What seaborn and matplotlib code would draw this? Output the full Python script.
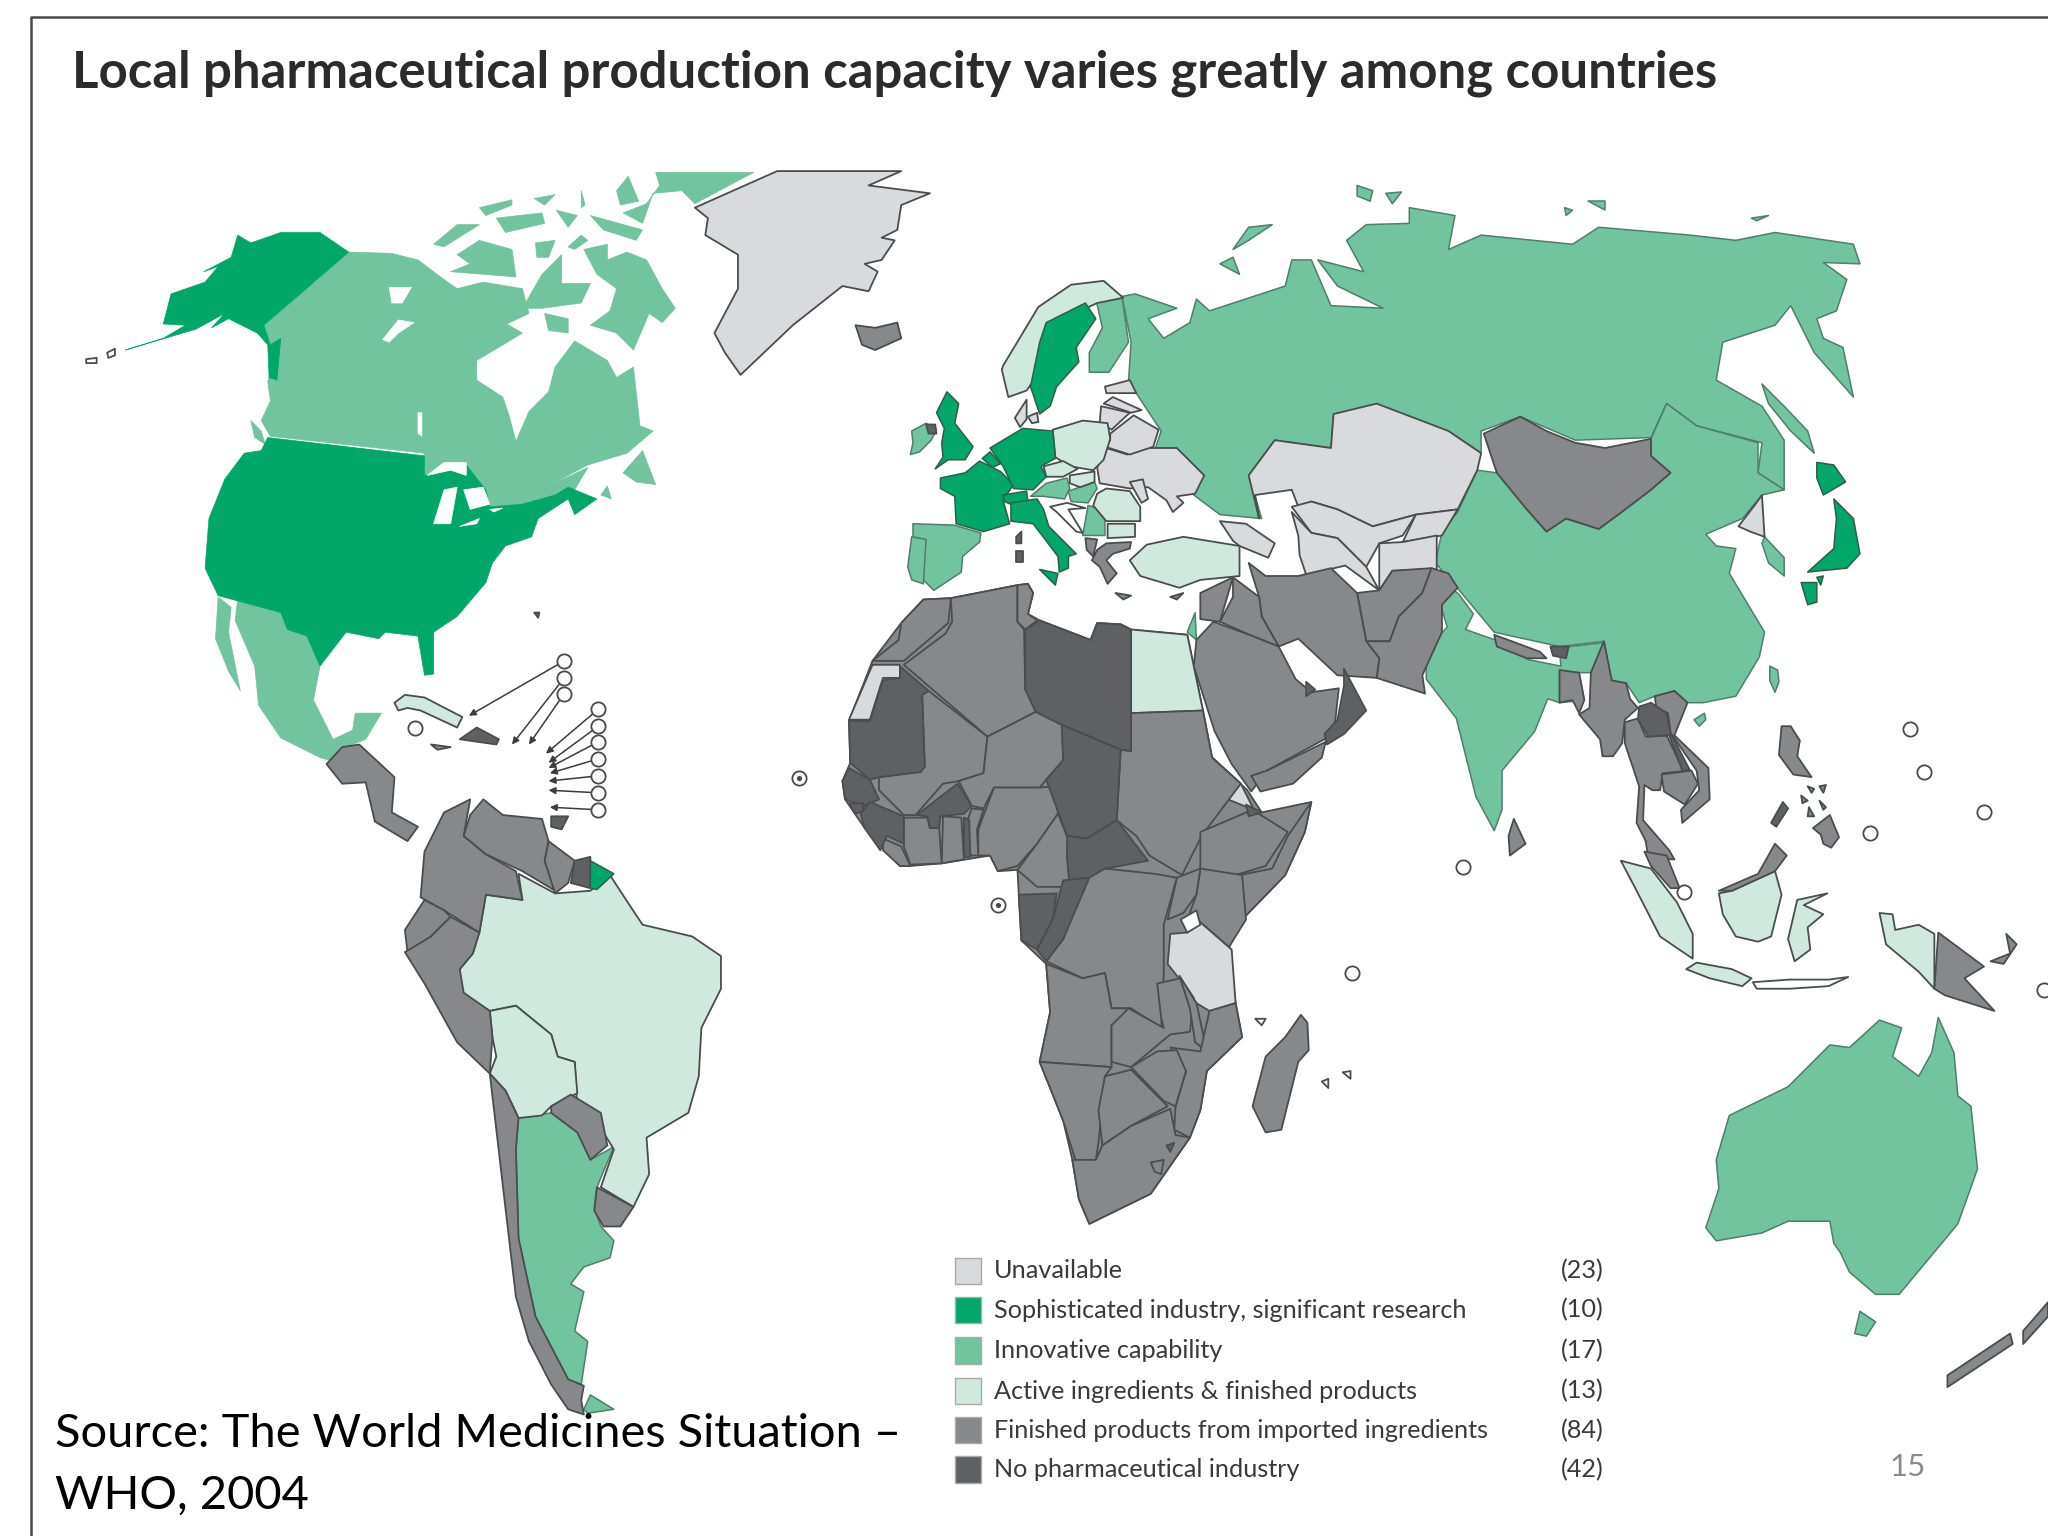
import pandas as pd
import matplotlib
matplotlib.use("Agg")
import matplotlib.pyplot as plt
import seaborn as sns

TITLE = "Local pharmaceutical production capacity varies greatly among countries"
SOURCE = "Source: The World Medicines Situation –\nWHO, 2004"
PAGE = "15"

categories = ["Unavailable", "Sophisticated industry, significant research", "Innovative capability",
              "Active ingredients & finished products", "Finished products from imported ingredients",
              "No pharmaceutical industry"]
counts = [23, 10, 17, 13, 84, 42]
colors = ["#d9dade", "#00a768", "#72c49e", "#d0e9de", "#87888c", "#5f6063"]
legend_rows = [973, 1003, 1034, 1065, 1095, 1125]

# outlines, in picture pixels, one list per legend class
africa_base = [(650,552),(668,506),(690,477),(707,459),(728,458),(779,448),(787,447),(791,454),(787,470),(796,475),(835,490),(840,477),(858,478),(866,482),(909,486),(921,544),(928,580),(955,605),(966,622),(1004,614),(999,637),(984,670),(951,704),(941,725),(946,768),(951,794),(924,820),(919,850),(911,871),(881,914),(834,937),(826,918),(821,888),(814,858),(796,813),(804,775),(801,738),(782,720),(780,685),(779,666),(764,667),(758,655),(721,661),(697,663),(689,663),(662,634),(647,612),(645,598),(651,584)]

north_america_top = [
    [(96,268),(125,259),(142,249),(125,248),(131,225),(157,216),(167,204),(156,208),(177,197),(182,180),(192,186),(215,178),(245,178),(267,193),(202,249),(207,264),(215,259),(212,291),(206,289),(205,264),(197,255),(175,244),(162,251),(172,240),(150,252)],
    [(205,335),(325,349),(325,364),(357,356),(372,375),(375,388),(400,386),(425,379),(435,373),(457,382),(440,394),(435,382),(412,397),(407,411),(387,418),(377,431),(372,446),(350,472),(332,484),(332,516),(325,517),(320,487),(295,484),(290,489),(265,484),(245,510),(235,487),(220,482),(215,469),(167,456),(157,435),(160,397),(172,367),(187,347),(200,345)],
]
north_america_innovative = [
    [(267,193),(300,194),(320,199),(340,214),(350,221),(370,216),(400,221),(405,240),(388,248),(400,255),(365,276),(365,291),(385,304),(390,319),(395,338),(405,315),(420,300),(425,281),(440,261),(465,276),(472,289),(485,281),(490,326),(500,330),(480,347),(450,356),(418,373),(450,358),(440,375),(425,379),(400,386),(375,388),(372,375),(357,356),(325,364),(325,347),(207,334),(200,322),(207,307),(205,292),(215,259),(207,264),(202,249)],
    [(447,191),(465,187),(465,199),(480,193),(495,199),(507,221),(517,236),(507,247),(497,240),(485,268),(472,255),(452,249),(467,238),(472,221),(457,210)],
    [(350,195),(367,184),(392,191),(395,212),(345,208),(360,202)],
    [(332,187),(350,172),(367,172),(340,189)],
    [(417,240),(435,244),(435,255),(420,253)],
    [(400,236),(415,210),(430,195),(430,217),(452,217),(445,232),(415,236)],
    [(410,186),(425,184),(420,197),(411,197)],
    [(435,189),(445,180),(450,184),(440,191)],
    [(380,167),(415,163),(417,171),(387,178)],
    [(367,159),(392,153),(392,157),(372,165)],
    [(409,152),(425,149),(417,157)],
    [(426,161),(442,165),(435,174)],
    [(445,146),(448,157),(445,159)],
    [(452,165),(492,176),(487,184),(462,176)],
    [(502,132),(577,132),(532,156),(522,146),(500,148),(492,171),(477,163),(495,156),(505,142)],
    [(472,146),(481,135),(489,154),(475,157)],
    [(477,362),(492,345),(502,371),(487,369)],
    [(460,379),(465,372),(468,382)],
    [(192,322),(200,330),(203,340),(195,335)],
    [(167,457),(177,465),(175,484),(184,529),(175,514),(165,489)],
    [(182,459),(215,469),(220,482),(235,487),(245,510),(240,536),(255,566),(270,559),(272,546),(292,546),(280,566),(265,572),(262,585),(245,580),(215,565),(198,540),(195,510),(180,475)],
]
lakes = [
    [(298,220),(315,220),(308,232),(300,232)],
    [(293,260),(305,245),(317,247),(305,255),(298,262)],
    [(320,316),(323,316),(323,334),(320,332)],
    [(327,364),(340,354),(357,354),(357,364),(345,360)],
    [(332,401),(340,375),(350,373),(345,401)],
    [(355,375),(370,373),(375,386),(360,390)],
    [(352,403),(367,397),(365,401)],
    [(375,390),(385,389),(378,392)],
]

sophisticated = [
    [(720,366),(739,362),(750,353),(766,361),(776,371),(768,383),(773,401),(753,407),(732,401),(731,380),(720,374)],
    [(725,300),(734,309),(731,324),(745,342),(739,352),(726,352),(716,359),(722,350),(721,339),(723,328),(717,316)],
    [(758,343),(783,328),(806,330),(808,351),(797,357),(801,365),(791,375),(776,374),(768,357)],
    [(752,351),(758,346),(766,355),(760,358)],
    [(768,379),(786,376),(787,384),(776,387),(769,384)],
    [(774,385),(794,382),(799,390),(803,403),(824,424),(818,426),(818,435),(811,438),(810,426),(791,401),(774,399)],
    [(796,436),(810,439),(808,448)],
    [(831,232),(839,244),(824,266),(826,277),(809,296),(804,311),(796,317),(789,296),(796,262),(801,247)],
    [(1391,354),(1404,356),(1413,369),(1396,379),(1391,366)],
    [(1404,382),(1419,397),(1424,424),(1414,435),(1384,438),(1404,420),(1406,397)],
    [(1379,446),(1391,446),(1391,461),(1384,463)],
    [(1391,442),(1396,441),(1394,448)],
    [(452,659),(470,669),(457,681),(452,680)],
]
innovative = [
    [(859,227),(869,225),(901,236),(879,244),(891,259),(911,247),(916,229),(926,238),(984,219),(989,199),(1004,199),(1019,234),(1059,236),(1024,219),(1009,199),(1044,208),(1031,184),(1046,172),(1079,171),(1079,159),(1114,165),(1109,191),(1134,180),(1204,187),(1224,174),(1294,180),(1329,184),(1359,178),(1419,187),(1424,202),(1396,201),(1414,214),(1406,238),(1391,244),(1396,259),(1411,266),(1419,304),(1389,270),(1371,234),(1359,249),(1319,262),(1314,291),(1349,311),(1366,337),(1366,375),(1346,362),(1349,339),(1299,326),(1276,309),(1264,335),(1206,337),(1164,319),(1134,330),(1134,347),(1109,330),(1021,317),(1019,343),(976,337),(956,364),(966,397),(934,394),(914,379),(919,364),(884,345),(889,330),(864,292),(866,262)],
    [(944,191),(956,174),(974,172),(956,184)],
    [(934,202),(944,197),(949,210)],
    [(1039,142),(1051,146),(1049,154),(1039,150)],
    [(1061,148),(1073,147),(1066,156)],
    [(1198,159),(1204,161),(1199,165)],
    [(1216,154),(1229,154),(1229,161)],
    [(1341,167),(1354,165),(1345,169)],
    [(1349,294),(1366,311),(1384,330),(1389,347),(1371,330),(1354,309)],
    [(1131,360),(1146,362),(1169,390),(1184,407),(1199,397),(1224,405),(1239,394),(1264,375),(1279,362),(1264,349),(1264,336),(1276,309),(1299,326),(1346,339),(1346,362),(1366,375),(1349,379),(1334,397),(1306,409),(1314,418),(1329,420),(1324,439),(1351,484),(1347,503),(1329,533),(1304,538),(1292,538),(1282,529),(1267,533),(1255,538),(1245,523),(1234,521),(1228,491),(1194,495),(1144,484),(1119,454),(1099,431),(1104,407),(1116,392)],
    [(1351,411),(1366,427),(1366,441),(1354,431),(1349,416)],
    [(1355,510),(1361,513),(1362,522),(1359,530),(1355,521)],
    [(1297,551),(1305,546),(1306,551),(1301,556)],
    [(1105,445),(1117,455),(1128,470),(1122,482),(1145,490),(1170,505),(1195,510),(1194,496),(1228,492),(1218,515),(1209,515),(1213,536),(1194,538),(1185,535),(1175,560),(1150,590),(1150,620),(1144,636),(1130,610),(1120,570),(1115,550),(1092,520),(1092,498),(1108,480),(1102,460)],
    [(839,229),(859,227),(864,262),(849,285),(834,285),(834,270),(844,251)],
    [(698,330),(709,324),(717,329),(713,337),(704,346),(697,348),(699,339)],
    [(699,401),(730,402),(751,408),(750,415),(737,426),(736,438),(715,452),(707,444),(708,413),(699,411)],
    [(698,411),(709,413),(707,447),(698,444),(695,434)],
    [(789,380),(801,370),(817,366),(819,374),(815,382),(799,380)],
    [(818,376),(838,369),(840,374),(833,385),(820,384)],
    [(833,387),(840,389),(846,398),(846,410),(829,410)],
    [(909,484),(915,469),(916,490)],
    [(397,856),(422,852),(442,867),(452,888),(470,878),(457,909),(455,925),(460,939),(470,950),(467,963),(447,970),(437,983),(447,989),(440,1019),(450,1027),(445,1060),(435,1056),(410,1008),(397,948),(395,880)],
    [(447,1079),(452,1068),(470,1079),(450,1082)],
    [(1306,940),(1316,910),(1314,888),(1324,854),(1369,832),(1401,800),(1416,802),(1439,781),(1456,787),(1449,809),(1469,824),(1479,806),(1484,779),(1496,806),(1499,839),(1509,847),(1514,895),(1499,937),(1454,991),(1436,991),(1416,974),(1409,959),(1404,952),(1401,935),(1369,935),(1349,944),(1314,950)],
    [(1424,1004),(1436,1012),(1429,1023),(1420,1021)],
]
active = [
    [(767,283),(768,280),(795,235),(820,218),(845,215),(860,228),(840,232),(812,245),(797,265),(795,286),(786,299),(772,304)],
    [(806,329),(829,322),(848,324),(850,336),(845,352),(837,360),(819,357),(808,350)],
    [(799,357),(814,353),(825,359),(814,365),(801,365)],
    [(819,364),(838,361),(838,369),(827,373),(819,370)],
    [(840,378),(847,374),(865,376),(873,388),(873,399),(847,399),(837,387)],
    [(848,401),(869,401),(869,411),(848,412)],
    [(865,429),(878,417),(906,411),(949,418),(949,441),(919,444),(903,450),(873,441)],
    [(866,482),(909,486),(921,544),(866,546)],
    [(302,538),(310,532),(325,534),(354,549),(350,557),(322,544),(312,542),(305,544)],
    [(372,685),(400,689),(397,669),(425,684),(452,682),(467,670),(482,693),(492,708),(530,717),(552,732),(552,757),(537,787),(535,824),(527,852),(495,871),(497,899),(485,924),(460,909),(470,880),(462,867),(442,850),(440,813),(427,809),(422,792),(395,770),(375,774),(352,760),(352,742),(362,730),(367,714)],
    [(375,774),(395,770),(422,792),(427,809),(440,813),(442,837),(422,847),(415,854),(397,856),(387,835),(375,822),(380,809),(377,794)],
    [(1241,659),(1264,665),(1284,691),(1296,715),(1296,734),(1271,717),(1251,678)],
    [(1291,742),(1299,737),(1326,742),(1341,749),(1334,755),(1309,749)],
    [(1316,684),(1326,682),(1359,667),(1364,685),(1356,717),(1346,721),(1329,717),(1319,700)],
    [(1369,719),(1376,689),(1399,684),(1381,693),(1396,700),(1384,710),(1386,727),(1374,736)],
    [(1439,699),(1449,700),(1451,712),(1469,708),(1481,715),(1481,757),(1469,744),(1444,723)],
]
unavailable = [
    [(595,131),(690,131),(665,142),(712,148),(690,157),(687,176),(675,182),(685,184),(675,199),(662,202),(672,208),(665,223),(645,219),(607,249),(567,287),(555,270),(547,255),(565,221),(565,195),(540,180),(542,167),(532,159)],
    [(956,364),(976,337),(1019,343),(1021,317),(1054,309),(1109,330),(1134,347),(1131,360),(1116,390),(1084,394),(1051,403),(1024,390),(1004,384),(994,388),(989,375),(961,379),(964,397)],
    [(989,388),(1004,384),(1024,390),(1051,403),(1084,394),(1074,410),(1056,416),(1046,434),(1024,412),(1004,408)],
    [(989,392),(1004,408),(1024,412),(1046,434),(1056,452),(1030,433),(1000,440),(995,425),(994,410)],
    [(1084,394),(1116,390),(1104,410),(1074,415)],
    [(1056,416),(1074,415),(1100,410),(1100,436),(1066,437),(1056,452)],
    [(934,399),(954,401),(976,416),(971,427),(949,418),(944,414)],
    [(840,358),(847,343),(863,348),(878,343),(901,343),(922,364),(915,378),(901,380),(906,385),(898,392),(893,383),(879,373),(865,374),(842,370)],
    [(850,332),(868,318),(887,329),(883,342),(865,348),(846,342),(850,337)],
    [(846,296),(865,291),(870,301),(847,301)],
    [(845,309),(852,304),(874,314),(866,316)],
    [(843,311),(865,316),(851,329),(842,323)],
    [(865,369),(875,367),(879,382),(874,385)],
    [(777,320),(786,306),(786,321),(781,327)],
    [(787,319),(794,316),(795,323),(790,324)],
    [(1331,403),(1344,386),(1349,379),(1351,411),(1340,407)],
    [(668,509),(689,509),(689,519),(676,519),(666,551),(650,551)],
    [(648,605),(661,603),(661,607),(648,607)],
    [(928,580),(950,600),(960,620),(935,610)],
    [(896,715),(909,714),(919,706),(943,727),(946,768),(926,774),(916,768),(901,747),(894,738)],
]
finished = [
    [(655,249),(670,251),(687,247),(690,259),(670,268),(660,264)],
    [(280,599),(262,600),(250,585),(262,572),(275,570),(288,582),(302,595),(300,622),(320,633),(312,644),(287,629)],
    [(330,570),(345,572),(335,574)],
    [(360,612),(355,640),(372,654),(395,667),(400,689),(372,685),(367,714),(340,697),(322,687),(325,652),(340,622)],
    [(370,612),(385,624),(415,627),(420,644),(417,659),(425,682),(400,667),(372,654),(355,640),(360,624)],
    [(420,644),(440,659),(435,676),(425,684),(417,659)],
    [(325,689),(340,697),(345,702),(330,717),(312,729),(310,712)],
    [(345,702),(367,714),(362,730),(352,742),(355,760),(375,774),(377,794),(375,822),(350,798),(325,753),(310,729),(330,717)],
    [(422,847),(437,838),(460,852),(465,877),(452,888),(442,867),(422,852)],
    [(375,822),(387,835),(397,856),(395,880),(397,948),(410,1008),(435,1056),(447,1061),(445,1072),(447,1083),(435,1079),(422,1060),(405,1027),(395,993),(387,925)],
    [(457,909),(485,924),(475,939),(462,939),(455,927)],
    [(1136,332),(1164,319),(1184,330),(1206,339),(1229,343),(1264,336),(1264,349),(1279,362),(1264,375),(1239,394),(1224,405),(1199,397),(1184,407),(1169,390),(1146,362)],
    [(1144,486),(1179,499),(1184,504),(1169,504),(1146,495)],
    [(1159,627),(1168,646),(1156,655),(1155,640)],
    [(1039,454),(1056,452),(1066,437),(1096,435),(1089,454),(1071,472),(1064,491),(1046,491)],
    [(1089,454),(1096,435),(1109,439),(1116,450),(1104,463),(1104,484),(1089,517),(1091,531),(1054,519),(1056,504),(1046,491),(1064,491),(1071,472)],
    [(956,431),(969,441),(994,441),(1019,435),(1039,454),(1046,491),(1056,504),(1054,519),(1024,517),(994,489),(979,495),(966,472),(964,457)],
    [(944,442),(964,457),(966,472),(979,495),(959,487),(934,476),(944,457)],
    [(919,454),(944,442),(934,476),(919,474)],
    [(929,476),(959,487),(979,495),(992,520),(1004,530),(1025,527),(1022,555),(1014,566),(970,590),(958,606),(943,585),(930,560),(914,510),(916,490)],
    [(1015,568),(1012,580),(990,600),(965,606),(958,594),(970,590)],
    [(831,412),(840,413),(837,426),(832,421)],
    [(840,421),(847,416),(866,415),(865,420),(852,424),(847,429),(855,439),(848,447),(842,434),(836,429)],
    [(854,454),(866,456),(860,459)],
    [(896,457),(906,454),(901,459)],
    [(690,477),(707,459),(728,458),(726,477),(692,506),(668,506),(688,490)],
    [(728,458),(779,448),(779,476),(784,482),(785,528),(793,545),(756,564),(692,509),(724,485),(729,476)],
    [(779,448),(787,447),(791,454),(787,470),(794,475),(785,482),(779,476)],
    [(706,532),(711,529),(756,564),(753,592),(734,598),(722,600),(701,624),(692,624),(673,605),(673,595),(705,591),(708,587)],
    [(756,564),(793,545),(813,555),(814,582),(801,597),(796,603),(761,603),(753,619),(744,617),(734,598),(753,592)],
    [(761,603),(796,603),(807,602),(810,623),(794,646),(779,663),(764,667),(758,655),(749,655),(749,635)],
    [(810,623),(818,643),(817,656),(819,679),(794,679),(779,666),(794,646)],
    [(744,619),(753,620),(748,635),(749,655),(743,655),(740,630)],
    [(722,625),(736,626),(738,658),(721,661)],
    [(692,626),(710,626),(712,634),(719,634),(721,661),(697,662),(692,648)],
    [(676,642),(690,648),(697,663),(689,663),(676,651)],
    [(664,634),(675,630),(676,648),(671,646)],
    [(866,546),(921,544),(928,580),(950,600),(920,640),(905,670),(880,655),(870,640),(855,628),(858,574),(866,575)],
    [(919,637),(959,620),(986,637),(969,663),(939,672),(919,667)],
    [(1004,614),(999,637),(984,670),(951,704),(949,670),(974,665),(986,640)],
    [(919,665),(951,670),(954,704),(941,725),(911,699),(916,685)],
    [(901,672),(919,665),(916,685),(906,699),(894,704)],
    [(801,736),(814,719),(834,670),(846,665),(884,669),(901,672),(891,708),(891,745),(889,787),(866,772),(851,772),(846,745),(829,749)],
    [(801,738),(829,749),(846,745),(851,772),(864,772),(864,783),(851,785),(851,817),(796,813),(804,775)],
    [(851,785),(864,772),(891,787),(889,779),(886,753),(904,749),(914,764),(911,790),(896,792),(866,817),(851,813)],
    [(903,747),(916,768),(924,805),(915,798),(911,772)],
    [(946,768),(951,794),(924,820),(919,850),(911,871),(899,865),(900,847),(908,820),(896,802),(919,805),(926,774)],
    [(866,817),(886,805),(901,804),(908,820),(900,847),(891,843)],
    [(796,813),(851,817),(846,824),(841,875),(839,888),(824,890),(814,858)],
    [(846,824),(866,819),(894,847),(866,862),(844,877),(841,850)],
    [(821,888),(839,888),(844,877),(866,862),(896,849),(900,869),(911,871),(881,914),(834,937),(826,918)],
    [(881,890),(891,888),(889,899),(884,897)],
    [(996,777),(1001,783),(1002,804),(994,813),(981,865),(969,867),(959,847),(969,809),(984,794)],
    [(1228,491),(1234,521),(1245,523),(1248,535),(1254,542),(1244,551),(1242,569),(1235,579),(1227,579),(1225,566),(1209,547),(1217,542),(1218,515)],
    [(1194,513),(1209,515),(1213,536),(1209,546),(1204,536),(1194,538)],
    [(1244,553),(1254,550),(1260,564),(1276,563),(1286,584),(1294,590),(1273,592),(1271,605),(1265,605),(1259,601),(1258,628),(1278,651),(1282,658),(1262,657),(1260,644),(1253,630),(1255,602),(1244,569)],
    [(1259,652),(1276,655),(1286,680),(1279,680),(1264,663)],
    [(1267,533),(1282,529),(1292,538),(1282,563),(1308,588),(1309,612),(1288,630),(1287,620),(1301,605),(1299,590),(1279,561),(1277,546),(1268,542)],
    [(1272,593),(1295,590),(1300,600),(1290,616),(1274,606)],
    [(1316,682),(1346,669),(1359,646),(1368,655),(1359,667),(1326,682)],
    [(1484,714),(1519,740),(1504,749),(1527,774),(1489,762),(1481,757)],
    [(1524,736),(1539,730),(1536,715),(1544,723),(1534,738)],
    [(1364,556),(1371,556),(1378,567),(1376,579),(1387,595),(1373,593),(1362,578)],
    [(1388,634),(1401,624),(1408,641),(1402,649),(1396,646),(1394,639)],
    [(1384,602),(1389,604),(1387,607)],
    [(1393,602),(1398,601),(1396,607)],
    [(1379,609),(1384,613),(1380,615)],
    [(1393,613),(1398,618),(1396,620)],
    [(1385,618),(1389,625),(1384,625)],
    [(1491,1053),(1539,1021),(1541,1029),(1491,1062)],
    [(1549,1019),(1568,997),(1568,1008),(1549,1029)],
]
no_industry = [
    [(785,482),(796,475),(835,490),(840,477),(858,478),(866,482),(866,575),(858,574),(813,555),(793,545),(785,528)],
    [(650,552),(666,552),(676,521),(689,519),(689,510),(711,529),(706,532),(708,587),(705,591),(673,595),(666,597),(651,584)],
    [(813,555),(858,574),(855,628),(832,642),(817,640),(801,597),(814,582)],
    [(817,640),(832,642),(855,628),(879,659),(846,665),(834,672),(819,679),(817,656)],
    [(780,685),(809,684),(806,704),(794,727),(782,720)],
    [(834,672),(814,719),(801,736),(794,727),(806,704),(814,674)],
    [(650,588),(666,597),(673,612),(662,617),(647,612),(645,598)],
    [(650,615),(661,615),(661,621),(655,623)],
    [(659,623),(666,614),(692,625),(692,646),(679,640),(674,651),(662,634)],
    [(733,600),(744,617),(738,623),(720,625),(719,634),(712,634),(710,625),(702,624)],
    [(738,626),(742,628),(743,656),(738,656)],
    [(352,566),(365,557),(382,566),(380,570)],
    [(422,625),(435,625),(430,635),(422,633)],
    [(440,659),(452,656),(452,680),(437,676)],
    [(1187,495),(1201,495),(1199,504),(1189,502)],
    [(1029,512),(1046,544),(1029,562),(1016,570),(1014,562),(1024,551),(1029,525)],
    [(1000,522),(1007,528),(1000,533)],
    [(954,616),(966,622),(956,625)],
    [(893,877),(899,875),(896,882)],
    [(1255,541),(1264,538),(1276,546),(1279,561),(1294,590),(1288,590),(1278,563),(1262,564),(1254,551)],
    [(1356,630),(1365,614),(1369,619),(1360,633)],
    [(709,325),(716,325),(717,332),(711,332)],
    [(778,411),(782,407),(782,416),(778,416)],
    [(778,422),(783,422),(783,430),(778,430)],
    [(409,469),(413,469),(412,473)],
]
white_land = [
    [(804,388),(817,385),(831,389),(818,390),(829,408),(824,407),(809,392)],
    [(904,704),(916,697),(919,708),(909,714)],
    [(1342,752),(1370,750),(1400,750),(1415,748),(1400,755),(1370,757),(1345,757)],
    [(66,275),(74,274),(74,278),(66,278)],
    [(82,270),(88,267),(88,272),(83,274)],
    [(961,780),(969,780),(966,785)],
    [(1012,828),(1017,826),(1017,833)],
    [(1028,821),(1034,820),(1034,826)],
]

island_x = [1462, 1473, 1432, 1519, 1120, 1035, 1289, 1565, 612, 764, 318, 432, 432, 432, 458, 458, 458, 458, 458, 458, 458]
island_y = [558, 591, 638, 622, 664, 745, 683, 758, 596, 693, 557, 506, 519, 531, 543, 556, 568, 581, 594, 607, 620]
arrow_ends = [(359,548),(392,570),(405,570),(418,577),(420,584),(420,588),(421,592),(420,598),(420,605),(421,618)]

sns.set_theme(style="white")
plt.rcParams["font.family"] = ["Lato", "DejaVu Sans"]

fig, ax = plt.subplots(figsize=(20.48, 15.36), dpi=100)
ax.set_position([0, 0, 1, 1])


def draw(shapes, color, edge="#4a4d4d", lw=1.3):
    for shape in shapes:
        xs, ys = zip(*shape)
        ax.fill(xs, ys, facecolor=color, edgecolor=edge, linewidth=lw, joinstyle="round", zorder=2)


# outline-free greens in North America, same as the source
draw(north_america_innovative, colors[2], edge=colors[2], lw=0.5)
draw(north_america_top, colors[1], edge=colors[1], lw=0.5)
draw(lakes, "white", edge="white", lw=0.5)
draw([africa_base], colors[4])
draw(innovative, colors[2], edge="#4f7f6c", lw=1.1)
draw(unavailable, colors[0])
draw(active, colors[3])
draw(finished, colors[4])
draw(no_industry, colors[5])
draw(sophisticated, colors[1], edge="#2f5f4b", lw=1.1)
draw(white_land, "white")

# leader lines to the small-island circles
for (x0, y0), (x1, y1) in zip(zip(island_x[11:], island_y[11:]), arrow_ends):
    ax.annotate("", xy=(x1, y1), xytext=(x0, y0), zorder=3,
                arrowprops=dict(arrowstyle="-|>", color="#3c3c3c", lw=1.1, mutation_scale=10, shrinkA=0, shrinkB=0))

islands = pd.DataFrame({"x": island_x, "y": island_y})
sns.scatterplot(data=islands, x="x", y="y", ax=ax, s=105, color="white", edgecolor="#4a4a4a", linewidth=1.3, zorder=4, legend=False)
sns.scatterplot(data=islands.iloc[8:10], x="x", y="y", ax=ax, s=14, color="#4a4a4a", linewidth=0, zorder=5, legend=False)

legend_df = pd.DataFrame({"label": categories, "count": counts, "row": legend_rows})
legend_df["x"] = 741
sns.scatterplot(data=legend_df, x="x", y="row", hue="label", palette=colors, hue_order=categories, marker="s",
                s=360, edgecolor="#a9aaa9", linewidth=1.0, ax=ax, legend=False, zorder=4)

ax.set_xlim(0, 1568)
ax.set_ylim(1176, 0)
ax.axis("off")

for _, row in legend_df.iterrows():
    ax.text(761, row["row"], row["label"], fontsize=18.2, color="#3a3a3a", va="center", ha="left", zorder=5)
    ax.text(1195, row["row"], f"({row['count']})", fontsize=18.2, color="#3a3a3a", va="center", ha="left", zorder=5)

ax.text(55, 56, TITLE, fontsize=36.6, fontweight="bold", color="#2b2b2b", va="center", ha="left", zorder=5)
ax.text(42, 1098, SOURCE.split("\n")[0], fontsize=33.8, color="black", va="center", ha="left", zorder=5)
ax.text(42, 1145, SOURCE.split("\n")[1], fontsize=33.8, color="black", va="center", ha="left", zorder=5)
ax.text(1447, 1123, PAGE, fontsize=22.5, color="#8a8a8a", va="center", ha="left", zorder=5)

# slide frame, only top and left are in view
ax.plot([24, 24, 1568], [1176, 13, 13], color="#4a4a4a", lw=1.8, zorder=6, clip_on=False)

fig.savefig("out.png", dpi=100, facecolor="white")
